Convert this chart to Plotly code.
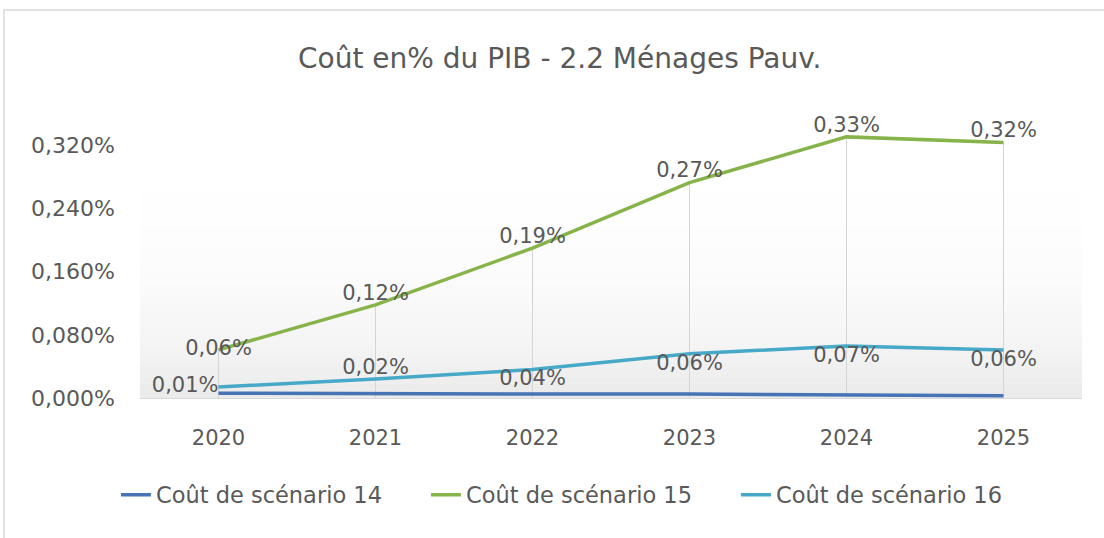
import plotly.graph_objects as go

# data (values are fractions, shown as %)
years = ["2020", "2021", "2022", "2023", "2024", "2025"]
scenario_14 = [0.00006, 0.00005, 0.00005, 0.00005, 0.00004, 0.00003]
scenario_15 = [0.00061, 0.00118, 0.00190, 0.00273, 0.00331, 0.00324]
scenario_16 = [0.00014, 0.00024, 0.00036, 0.00056, 0.00066, 0.00061]
y_ticks = [0.0, 0.0008, 0.0016, 0.0024, 0.0032]

series_names = ["Coût de scénario 14", "Coût de scénario 15", "Coût de scénario 16"]
title_text = "Coût en% du PIB - 2.2 Ménages Pauv."

FONT = "DejaVu Sans"
TEXT_GREY = "#595959"
BLUE = "#4674b4"
GREEN = "#86b44a"
CYAN = "#46a9c8"

fig = go.Figure()

# drop lines from the green series down to the axis
drop_x, drop_y = [], []
for year, value in zip(years, scenario_15):
    drop_x += [year, year, None]
    drop_y += [0, value, None]
fig.add_trace(
    go.Scatter(
        x=drop_x,
        y=drop_y,
        mode="lines",
        line=dict(color="#d4d4d4", width=1),
        hoverinfo="skip",
        showlegend=False,
    )
)

fig.add_trace(
    go.Scatter(
        x=years,
        y=scenario_14,
        name=series_names[0],
        legendrank=1,
        mode="lines",
        line=dict(color=BLUE, width=3.5),
    )
)
fig.add_trace(
    go.Scatter(
        x=years,
        y=scenario_16,
        name=series_names[2],
        legendrank=3,
        mode="lines+text",
        line=dict(color=CYAN, width=3.5),
        texttemplate="%{y:.2%}",
        textposition=["middle left", "top center", "bottom center",
                      "bottom center", "bottom center", "bottom center"],
        textfont=dict(family=FONT, size=21, color=TEXT_GREY),
    )
)
fig.add_trace(
    go.Scatter(
        x=years,
        y=scenario_15,
        name=series_names[1],
        legendrank=2,
        mode="lines+text",
        line=dict(color=GREEN, width=3.5),
        texttemplate="%{y:.2%}",
        textposition=["middle center"] + ["top center"] * 5,
        textfont=dict(family=FONT, size=21, color=TEXT_GREY),
    )
)

# soft vertical gradient in the plot area
bands = 40
for i in range(bands):
    frac = i / bands
    shade = int(round(255 - 20 * (1 - frac) ** 3))
    fig.add_shape(
        type="rect",
        xref="x domain",
        yref="y domain",
        x0=0,
        x1=1,
        y0=frac,
        y1=frac + 1 / bands + 0.002,
        fillcolor=f"rgb({shade},{shade},{shade})",
        line_width=0,
        layer="below",
    )

# outer chart frame (cut off at right and bottom, as in the reference)
fig.add_shape(
    type="rect",
    xref="paper",
    yref="paper",
    x0=-0.1444,
    x1=1.2,
    y0=-0.7,
    y1=1.366,
    line=dict(color="#d9d9d9", width=1.5),
    fillcolor="rgba(0,0,0,0)",
)

fig.update_layout(
    width=1104,
    height=538,
    margin=dict(l=140, r=22, t=114, b=140, autoexpand=False),
    paper_bgcolor="white",
    plot_bgcolor="white",
    separators=", ",
    font=dict(family=FONT, size=21, color=TEXT_GREY),
    title=dict(
        text=title_text,
        x=0.507,
        xanchor="center",
        y=0.892,
        yanchor="middle",
        font=dict(family=FONT, size=28, color=TEXT_GREY),
    ),
    xaxis=dict(
        type="category",
        categoryorder="array",
        categoryarray=years,
        range=[-0.5, 5.5],
        showgrid=False,
        showline=True,
        linecolor="#d9d9d9",
        linewidth=1,
        ticks="",
        ticklabelstandoff=21,
        tickfont=dict(family=FONT, size=21, color=TEXT_GREY),
    ),
    yaxis=dict(
        range=[0, 0.0036],
        tickvals=y_ticks,
        tickformat=".3%",
        showgrid=False,
        zeroline=False,
        showline=False,
        ticks="",
        ticklabelstandoff=24,
        tickfont=dict(family=FONT, size=22, color=TEXT_GREY),
    ),
    legend=dict(
        orientation="h",
        xref="container",
        x=0.105,
        xanchor="left",
        yref="container",
        y=1 - 495 / 538,
        yanchor="middle",
        entrywidth=265,
        font=dict(family=FONT, size=22.5, color=TEXT_GREY),
        bgcolor="rgba(0,0,0,0)",
    ),
)

# the page must start at the top-left corner, like the reference picture
fig.write_html(
    "out.html",
    config={"displayModeBar": False},
    post_script="document.body.style.margin = '0';",
)
